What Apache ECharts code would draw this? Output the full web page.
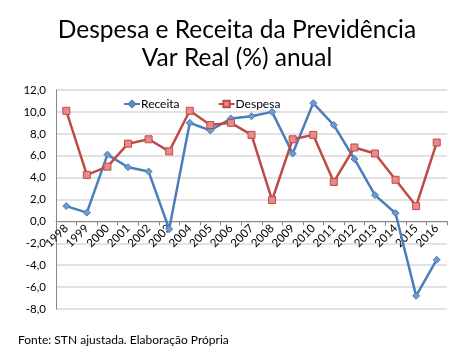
<!DOCTYPE html>
<html>
<head>
<meta charset="utf-8">
<script src="https://cdn.jsdelivr.net/npm/echarts@6/dist/echarts.min.js"></script>
<style>html,body{margin:0;padding:0;background:#fff;}#c{width:474px;height:355px;}</style>
</head>
<body>
<div id="c"></div>
<script>
var years = ['1998','1999','2000','2001','2002','2003','2004','2005','2006','2007','2008','2009','2010','2011','2012','2013','2014','2015','2016'];
var receita = [1.4, 0.8, 6.1, 4.95, 4.55, -0.7, 9.0, 8.3, 9.4, 9.6, 10.0, 6.2, 10.8, 8.8, 5.7, 2.4, 0.75, -6.8, -3.5];
var despesa = [10.1, 4.25, 5.0, 7.1, 7.5, 6.4, 10.1, 8.8, 9.0, 7.9, 1.95, 7.5, 7.9, 3.6, 6.75, 6.2, 3.8, 1.4, 7.2];
var yTicks = {min: -8, max: 12, interval: 2};

var gridTop = 90, gridBottom = 46, H = 355;
var plotH = H - gridTop - gridBottom;
var zeroOffset = -plotH * (0 - yTicks.min) / (yTicks.max - yTicks.min);

var chart = echarts.init(document.getElementById('c'));
var ff = 'Lato';
chart.setOption({
  animation: false,
  title: {
    text: 'Despesa e Receita da Previdência\nVar Real (%) anual',
    left: 'center', top: 11,
    textStyle: {fontFamily: ff, fontWeight: 'normal', fontSize: 24.5, lineHeight: 28, color: '#000'}
  },
  graphic: [{
    type: 'text', left: 18, top: 334,
    style: {text: 'Fonte: STN ajustada. Elaboração Própria', font: '12px Lato', fill: '#000'}
  }],
  legend: {
    top: 93, left: 118, itemGap: 38, itemWidth: 16, itemHeight: 8,
    textStyle: {fontFamily: ff, fontSize: 12, color: '#000', padding: [0,0,0,-4]},
    data: ['Receita', 'Despesa']
  },
  grid: {left: 56, right: 27, top: gridTop, bottom: gridBottom},
  xAxis: {
    type: 'category', data: years, boundaryGap: true,
    offset: zeroOffset,
    axisLine: {onZero: false, lineStyle: {color: '#888', width: 1}},
    axisTick: {show: true, length: 4, lineStyle: {color: '#888'}},
    axisLabel: {rotate: 45, interval: 0, fontFamily: ff, fontSize: 11.5, color: '#000', margin: 5}
  },
  yAxis: {
    type: 'value', min: yTicks.min, max: yTicks.max, interval: yTicks.interval,
    axisLine: {show: true, lineStyle: {color: '#888'}},
    axisTick: {show: false},
    axisLabel: {fontFamily: ff, fontSize: 11.5, color: '#000', margin: 10,
      formatter: function(v){ return v.toFixed(1).replace('.', ','); }},
    splitLine: {lineStyle: {color: '#d9d9d9', width: 1.5}}
  },
  series: [{
    name: 'Receita', type: 'line', data: receita,
    symbol: 'diamond', symbolSize: 7,
    lineStyle: {color: '#4a7ebb', width: 2.5},
    itemStyle: {color: '#6d9bd1', borderColor: '#4a7ebb', borderWidth: 1}
  }, {
    name: 'Despesa', type: 'line', data: despesa,
    symbol: 'rect', symbolSize: 7,
    lineStyle: {color: '#be4b48', width: 2.5},
    itemStyle: {color: '#e88a88', borderColor: '#be4b48', borderWidth: 1}
  }]
});
</script>
</body>
</html>
